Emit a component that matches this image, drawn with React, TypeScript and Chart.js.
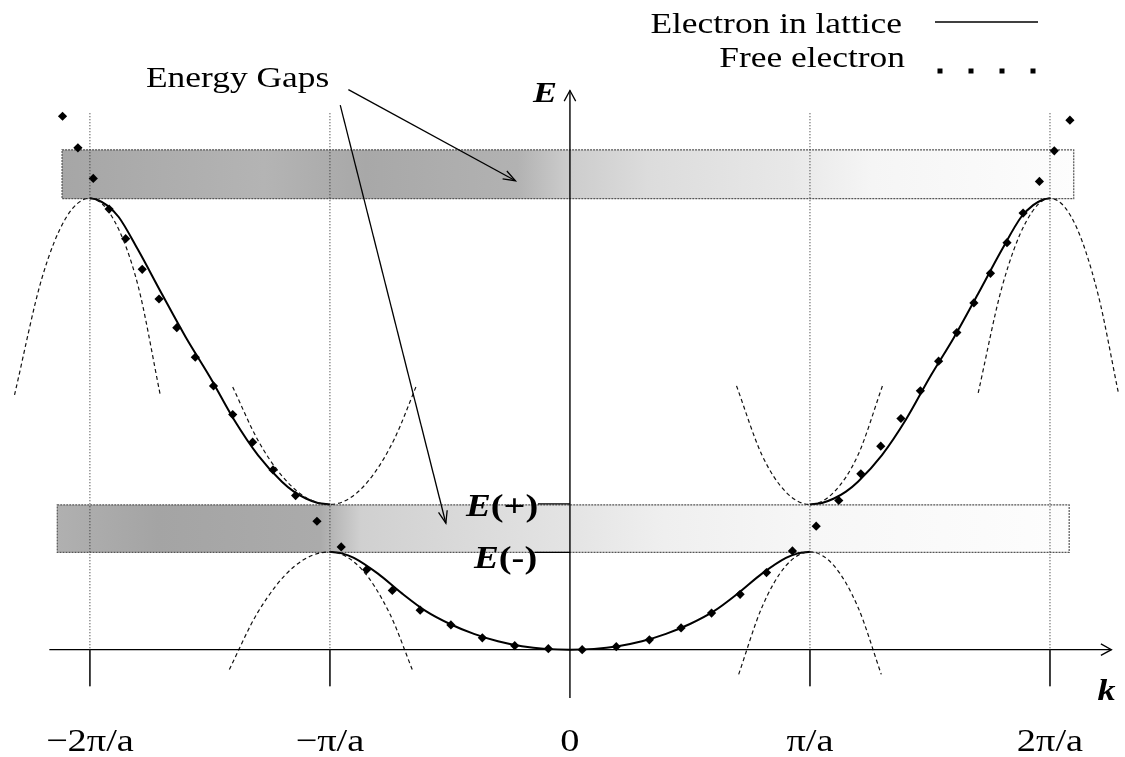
import React, { useEffect, useRef } from "react";
import { Chart, registerables } from "chart.js";

Chart.register(...registerables);

// ---------- data (k in units of π/a, E in arbitrary units) ----------
const kTicks = [-2, -1, 0, 1, 2];
const kTickLabels = ["−2π/a", "−π/a", "0", "π/a", "2π/a"];

const guideK = [-2, -1, 1, 2];
const guideTopE = 5.43;
const guideBottomE = -0.37;

const axisKRange = [-2.169, 2.256];
const axisERange = [-0.49, 5.66];

// free electron (diamond dots)
const freeK = [
  -2.114, -2.05, -1.986, -1.92, -1.851, -1.782, -1.712, -1.638, -1.561, -1.485, -1.405, -1.322,
  -1.237, -1.143, -1.054, -0.953, -0.847, -0.74, -0.624, -0.496, -0.365, -0.23, -0.09,
  0.051, 0.193, 0.331, 0.463, 0.59, 0.709, 0.819, 0.927, 1.026, 1.12, 1.212, 1.295, 1.379,
  1.46, 1.536, 1.612, 1.683, 1.752, 1.821, 1.888, 1.956, 2.018, 2.083,
];
const freeE = [
  5.4, 5.08, 4.77, 4.46, 4.16, 3.85, 3.55, 3.26, 2.96, 2.67, 2.38, 2.1,
  1.82, 1.56, 1.3, 1.04, 0.81, 0.6, 0.4, 0.25, 0.12, 0.04, 0.01,
  0.0, 0.03, 0.1, 0.22, 0.37, 0.56, 0.78, 1.0, 1.25, 1.51, 1.78, 2.06, 2.34,
  2.62, 2.92, 3.21, 3.51, 3.81, 4.12, 4.42, 4.74, 5.05, 5.36,
];

// electron in lattice (solid)
const band1K = [-1, -0.95, -0.9, -0.8, -0.7, -0.6, -0.5, -0.4, -0.3, -0.2, -0.1, 0, 0.1, 0.2, 0.3, 0.4, 0.5, 0.6, 0.7, 0.8, 0.9, 0.95, 1];
const band1E = [0.99, 0.975, 0.93, 0.77, 0.57, 0.39, 0.26, 0.16, 0.085, 0.035, 0.008, 0, 0.008, 0.035, 0.085, 0.16, 0.26, 0.39, 0.57, 0.77, 0.93, 0.975, 0.99];
const band2LeftK = [-2, -1.97, -1.93, -1.88, -1.8, -1.7, -1.6, -1.5, -1.4, -1.3, -1.2, -1.15, -1.1, -1.05, -1];
const band2LeftE = [4.57, 4.555, 4.5, 4.38, 4.05, 3.6, 3.16, 2.76, 2.33, 1.97, 1.7, 1.6, 1.53, 1.485, 1.47];
const band2RightK = [1, 1.05, 1.1, 1.15, 1.2, 1.3, 1.4, 1.5, 1.6, 1.7, 1.8, 1.88, 1.93, 1.97, 2];
const band2RightE = [1.47, 1.485, 1.53, 1.6, 1.7, 1.97, 2.33, 2.76, 3.16, 3.6, 4.05, 4.38, 4.5, 4.555, 4.57];

// thin dashed parabolas near the zone boundaries
const dashM2DownK = [-2.314, -2.2, -2.1, -2, -1.9, -1.8, -1.707];
const dashM2DownE = [2.58, 3.76, 4.37, 4.57, 4.35, 3.69, 2.58];
const dashM1UpK = [-1.405, -1.3, -1.2, -1.1, -1, -0.91, -0.82, -0.73, -0.64];
const dashM1UpE = [2.66, 2.12, 1.76, 1.54, 1.47, 1.545, 1.77, 2.14, 2.67];
const dashM1DownK = [-1.419, -1.3, -1.15, -1, -0.87, -0.75, -0.654];
const dashM1DownE = [-0.2, 0.38, 0.84, 0.99, 0.82, 0.36, -0.22];
const dashP1UpK = [0.694, 0.8, 0.9, 1, 1.1, 1.2, 1.302];
const dashP1UpE = [2.67, 1.97, 1.595, 1.47, 1.595, 1.97, 2.67];
const dashP1DownK = [0.703, 0.8, 0.9, 1, 1.1, 1.2, 1.297];
const dashP1DownE = [-0.25, 0.43, 0.85, 0.99, 0.85, 0.43, -0.25];
const dashP2DownK = [1.701, 1.8, 1.9, 2, 2.1, 2.2, 2.285];
const dashP2DownE = [2.6, 3.67, 4.33, 4.57, 4.33, 3.6, 2.6];

// energy gap bands
const gapUpperK = [-2.116, 2.099];
const gapUpperE = [4.565, 5.06];
const gapLowerK = [-2.136, 2.08];
const gapLowerE = [0.985, 1.465];

// "Energy Gaps" arrows: [fromK, fromE, toK, toE]
const gapArrow1 = [-0.923, 5.67, -0.227, 4.747];
const gapArrow2 = [-0.957, 5.513, -0.517, 1.28];

// ---------- helpers ----------
const pts = (ks: number[], es: number[]) => ks.map((k, i) => ({ x: k, y: es[i] }));
const SERIF = '"Liberation Serif", "Times New Roman", serif';
const SX = 1.2;

function stretchText(ctx: CanvasRenderingContext2D, text: string, x: number, y: number, font: string, align: CanvasTextAlign = "left") {
  ctx.save();
  ctx.font = font;
  ctx.fillStyle = "#000";
  ctx.textBaseline = "alphabetic";
  ctx.translate(x, y);
  ctx.scale(SX, 1);
  ctx.textAlign = align;
  ctx.fillText(text, 0, 0);
  ctx.restore();
}
function textW(ctx: CanvasRenderingContext2D, text: string, font: string) {
  ctx.save();
  ctx.font = font;
  const w = ctx.measureText(text).width * SX;
  ctx.restore();
  return w;
}
function arrowHead(ctx: CanvasRenderingContext2D, x0: number, y0: number, x1: number, y1: number, len: number, half: number) {
  const a = Math.atan2(y1 - y0, x1 - x0);
  ctx.beginPath();
  ctx.moveTo(x1 - len * Math.cos(a - half), y1 - len * Math.sin(a - half));
  ctx.lineTo(x1, y1);
  ctx.lineTo(x1 - len * Math.cos(a + half), y1 - len * Math.sin(a + half));
  ctx.stroke();
}

const lineDs = (data: any[], extra: any = {}) => ({
  type: "line" as const,
  data,
  borderColor: "#000",
  borderWidth: 1,
  pointRadius: 0,
  fill: false,
  tension: 0,
  ...extra,
});

export default function App() {
  const ref = useRef<HTMLCanvasElement | null>(null);

  useEffect(() => {
    if (!ref.current) return;

    const datasets: any[] = [];
    // guide lines at zone boundaries
    guideK.forEach((k) => {
      datasets.push(lineDs([{ x: k, y: guideTopE }, { x: k, y: 0 }], { borderColor: "#333", borderWidth: 1.1, borderDash: [1, 2] }));
      datasets.push(lineDs([{ x: k, y: 0 }, { x: k, y: guideBottomE }], { borderColor: "#222", borderWidth: 1 }));
    });
    // axes
    datasets.push(lineDs([{ x: axisKRange[0], y: 0 }, { x: axisKRange[1], y: 0 }], { borderWidth: 1.4 }));
    datasets.push(lineDs([{ x: 0, y: axisERange[0] }, { x: 0, y: axisERange[1] }], { borderWidth: 1.4 }));
    // dashed parabolas
    const dashOpts = { borderColor: "#111", borderWidth: 1.2, borderDash: [4, 3], cubicInterpolationMode: "monotone" };
    [
      [dashM2DownK, dashM2DownE],
      [dashM1UpK, dashM1UpE],
      [dashM1DownK, dashM1DownE],
      [dashP1UpK, dashP1UpE],
      [dashP1DownK, dashP1DownE],
      [dashP2DownK, dashP2DownE],
    ].forEach(([k, e]) => datasets.push(lineDs(pts(k, e), dashOpts)));
    // electron in lattice
    const solidOpts = { borderColor: "#000", borderWidth: 2, cubicInterpolationMode: "monotone" };
    datasets.push(lineDs(pts(band1K, band1E), solidOpts));
    datasets.push(lineDs(pts(band2LeftK, band2LeftE), solidOpts));
    datasets.push(lineDs(pts(band2RightK, band2RightE), solidOpts));
    // free electron
    datasets.push({
      type: "line",
      data: pts(freeK, freeE),
      showLine: false,
      pointStyle: "rectRot",
      pointRadius: 4.6,
      pointBackgroundColor: "#000",
      pointBorderColor: "#000",
      pointBorderWidth: 0,
    });

    const decor = {
      id: "decor",
      beforeDatasetsDraw(chart: any) {
        const ctx: CanvasRenderingContext2D = chart.ctx;
        const xs = chart.scales.x, ys = chart.scales.y;
        const band = (kr: number[], er: number[], stops: [number, string][]) => {
          const x0 = xs.getPixelForValue(kr[0]);
          const x1 = xs.getPixelForValue(kr[1]);
          const yt = ys.getPixelForValue(er[1]);
          const yb = ys.getPixelForValue(er[0]);
          const g = ctx.createLinearGradient(x0, 0, x1, 0);
          stops.forEach(([o, c]) => g.addColorStop(o, c));
          ctx.save();
          ctx.fillStyle = g;
          ctx.fillRect(x0, yt, x1 - x0, yb - yt);
          ctx.setLineDash([2, 1]);
          ctx.strokeStyle = "#555";
          ctx.lineWidth = 1.2;
          ctx.strokeRect(x0, yt, x1 - x0, yb - yt);
          ctx.restore();
        };
        band(gapUpperK, gapUpperE, [
          [0, "#a6a6a6"], [0.2, "#b4b4b4"], [0.3, "#a8a8a8"], [0.45, "#b2b2b2"], [0.5, "#cccccc"],
          [0.58, "#dcdcdc"], [0.72, "#e8e8e8"], [0.8, "#f5f5f5"], [1, "#fdfdfd"],
        ]);
        band(gapLowerK, gapLowerE, [
          [0, "#b0b0b0"], [0.1, "#a4a4a4"], [0.26, "#ababab"], [0.3, "#d0d0d0"], [0.5, "#e3e3e3"],
          [0.6, "#efefef"], [0.75, "#f7f7f7"], [1, "#fdfdfd"],
        ]);
      },
      afterDatasetsDraw(chart: any) {
        const ctx: CanvasRenderingContext2D = chart.ctx;
        const xs = chart.scales.x, ys = chart.scales.y;
        ctx.save();
        ctx.strokeStyle = "#000";
        ctx.lineWidth = 1.3;
        ctx.setLineDash([]);
        // axis arrowheads
        const ax0 = xs.getPixelForValue(axisKRange[0]), ax1 = xs.getPixelForValue(axisKRange[1]);
        const y0 = ys.getPixelForValue(0);
        arrowHead(ctx, ax0, y0, ax1, y0, 12, 0.5);
        const x0 = xs.getPixelForValue(0);
        const ey0 = ys.getPixelForValue(axisERange[0]), ey1 = ys.getPixelForValue(axisERange[1]);
        arrowHead(ctx, x0, ey0, x0, ey1, 12, 0.5);
        // gap arrows
        [gapArrow1, gapArrow2].forEach((a) => {
          const fx = xs.getPixelForValue(a[0]), fy = ys.getPixelForValue(a[1]);
          const tx = xs.getPixelForValue(a[2]), ty = ys.getPixelForValue(a[3]);
          ctx.lineWidth = 1.3;
          ctx.beginPath();
          ctx.moveTo(fx, fy);
          ctx.lineTo(tx, ty);
          ctx.stroke();
          arrowHead(ctx, fx, fy, tx, ty, 13, 0.35);
        });
        // solid segments of gap edges next to the E(+)/E(-) labels
        ctx.lineWidth = 1.3;
        ctx.beginPath();
        ctx.moveTo(x0 - 32, ys.getPixelForValue(gapLowerE[1]) - 1);
        ctx.lineTo(x0, ys.getPixelForValue(gapLowerE[1]) - 1);
        ctx.moveTo(x0 - 35, ys.getPixelForValue(gapLowerE[0]));
        ctx.lineTo(x0, ys.getPixelForValue(gapLowerE[0]));
        ctx.stroke();
        ctx.restore();

        // tick labels
        const tickFont = `32px ${SERIF}`;
        kTicks.forEach((k, i) => {
          stretchText(ctx, kTickLabels[i], xs.getPixelForValue(k), 751, tickFont, "center");
        });
        // axis labels
        const italicB = `italic bold 30px ${SERIF}`;
        stretchText(ctx, "E", x0 - 37, 102, italicB);
        stretchText(ctx, "k", xs.getPixelForValue(axisKRange[1]) - 14, 700, italicB);
        // E(+) / E(-)
        const eFont = `italic bold 31px ${SERIF}`;
        const pFont = `bold 32px ${SERIF}`;
        stretchText(ctx, "E", 466, 516, eFont);
        stretchText(ctx, "(+)", 466 + textW(ctx, "E", eFont), 516, pFont);
        stretchText(ctx, "E", 474, 568, eFont);
        stretchText(ctx, "(-)", 474 + textW(ctx, "E", eFont), 568, pFont);
        // Energy Gaps
        const txt = `29.5px ${SERIF}`;
        stretchText(ctx, "Energy Gaps", 146, 87, txt);
        // legend
        stretchText(ctx, "Electron in lattice", 902, 33, txt, "right");
        stretchText(ctx, "Free electron", 905, 67, txt, "right");
        ctx.save();
        ctx.strokeStyle = "#000";
        ctx.lineWidth = 1.3;
        ctx.beginPath();
        ctx.moveTo(935, 22);
        ctx.lineTo(1038, 22);
        ctx.stroke();
        ctx.fillStyle = "#000";
        [940, 971, 1002, 1033].forEach((lx) => ctx.fillRect(lx - 2.5, 68.5, 5, 5));
        ctx.restore();
      },
    };

    const chart = new Chart(ref.current, {
      type: "line",
      data: { datasets },
      options: {
        animation: false,
        responsive: false,
        maintainAspectRatio: false,
        layout: { padding: 0 },
        events: [],
        plugins: { legend: { display: false }, tooltip: { enabled: false } },
        scales: {
          x: { type: "linear", min: -2.3554, max: 2.2934, display: false },
          y: { type: "linear", min: -1.04, max: 6.53, display: false },
        },
      },
      plugins: [decor],
    } as any);

    return () => chart.destroy();
  }, []);

  return (
    <div style={{ position: "fixed", left: 0, top: 0, width: 1125, height: 757, background: "#fff" }}>
      <canvas ref={ref} width={1125} height={757} style={{ width: 1125, height: 757, display: "block" }} />
    </div>
  );
}
